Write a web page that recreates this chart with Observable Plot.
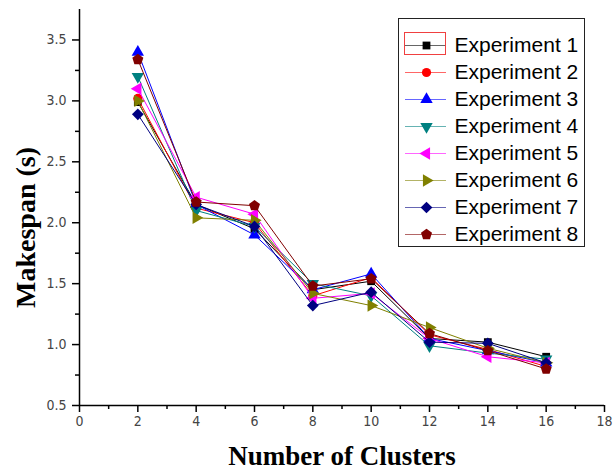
<!DOCTYPE html>
<html>
<head>
<meta charset="utf-8">
<script src="https://cdn.jsdelivr.net/npm/d3@7"></script>
<script src="https://cdn.jsdelivr.net/npm/@observablehq/plot@0.6"></script>
<style>
  body { margin: 0; background: white; }
  #wrap { position: relative; width: 613px; height: 472px; overflow: hidden; }
  #legend { position: absolute; left: 398px; top: 18px; width: 185px; height: 227px; border: 1px solid #222; background: white; }
  #sel { position: absolute; left: 404px; top: 32px; width: 40px; height: 21px; border: 1px solid #f04040; }
</style>
</head>
<body>
<div id="wrap"><div id="chart"></div><div id="legend"></div><div id="sel"></div></div>
<script>
// ---- data ----
const clusters = [2, 4, 6, 8, 10, 12, 14, 16];
const exp1 = [2.99, 2.15, 1.95, 1.45, 1.52, 1.05, 1.02, 0.90];
const exp2 = [3.02, 2.12, 2.00, 1.40, 1.55, 1.08, 0.96, 0.82];
const exp3 = [3.40, 2.15, 1.90, 1.45, 1.58, 1.05, 0.95, 0.85];
const exp4 = [3.20, 2.10, 1.97, 1.50, 1.40, 0.99, 0.93, 0.88];
const exp5 = [3.10, 2.21, 2.07, 1.38, 1.42, 1.05, 0.90, 0.85];
const exp6 = [3.00, 2.04, 2.02, 1.42, 1.32, 1.14, 0.97, 0.85];
const exp7 = [2.89, 2.15, 1.97, 1.32, 1.43, 1.02, 1.01, 0.85];
const exp8 = [3.34, 2.17, 2.14, 1.48, 1.54, 1.09, 0.95, 0.80];
const seriesNames = ["Experiment 1", "Experiment 2", "Experiment 3", "Experiment 4",
                     "Experiment 5", "Experiment 6", "Experiment 7", "Experiment 8"];
const seriesValues = [exp1, exp2, exp3, exp4, exp5, exp6, exp7, exp8];
const xTicks = [0, 2, 4, 6, 8, 10, 12, 14, 16, 18];
const yTicks = [0.5, 1.0, 1.5, 2.0, 2.5, 3.0, 3.5];

// ---- styling ----
const colors = ["#000000", "#ff0000", "#0000ff", "#008080", "#ff00ff", "#808000", "#000080", "#800000"];
const poly = (pts) => ({
  draw(ctx, size) {
    const s = Math.sqrt(size);
    pts.forEach(([a, b], i) => i ? ctx.lineTo(a * s, b * s) : ctx.moveTo(a * s, b * s));
    ctx.closePath();
  }
});
const pent = [];
for (let i = 0; i < 5; i++) {
  const a = -Math.PI / 2 + i * 2 * Math.PI / 5;
  pent.push([0.68 * Math.cos(a), 0.68 * Math.sin(a)]);
}
const symbols = [
  "square",
  "circle",
  poly([[0, -0.875], [0.76, 0.44], [-0.76, 0.44]]),
  poly([[0, 0.875], [0.76, -0.44], [-0.76, -0.44]]),
  poly([[-0.875, 0], [0.44, -0.76], [0.44, 0.76]]),
  poly([[0.875, 0], [-0.44, -0.76], [-0.44, 0.76]]),
  poly([[0, -0.72], [0.72, 0], [0, 0.72], [-0.72, 0]]),
  poly(pent)
];
const radii = [4.4, 4.6, 4.6, 4.6, 4.6, 4.6, 4.6, 4.8];

const tickFont = "'Liberation Sans Narrow', 'DejaVu Sans Condensed', 'Liberation Sans', sans-serif";
const serif = "'Liberation Serif', 'Times New Roman', serif";

const seriesMarks = [];
seriesValues.forEach((vals, i) => {
  const rows = clusters.map((c, j) => ({x: c, y: vals[j]}));
  seriesMarks.push(Plot.line(rows, {x: "x", y: "y", stroke: colors[i], strokeWidth: 1}));
  seriesMarks.push(Plot.dot(rows, {x: "x", y: "y", fill: colors[i], stroke: "none", symbol: symbols[i], r: radii[i]}));
});

const chart = Plot.plot({
  width: 613,
  height: 472,
  marginLeft: 79,
  marginRight: 9,
  marginTop: 9,
  marginBottom: 67,
  style: {fontFamily: tickFont, fontSize: "14px", background: "white", overflow: "visible"},
  x: {domain: [0, 18]},
  y: {domain: [0.5, 3.75]},
  marks: [
    ...seriesMarks,
    Plot.ruleY([0.5], {stroke: "black", strokeWidth: 1.5}),
    Plot.ruleX([0], {stroke: "black", strokeWidth: 1.5}),
    Plot.axisX({ticks: xTicks, tickSize: 7, text: null, label: null, color: "black", strokeWidth: 1.5}),
    Plot.axisX({ticks: d3.range(1, 18, 2), tickSize: 4, text: null, label: null, color: "black", strokeWidth: 1.5}),
    Plot.axisX({ticks: xTicks, tickSize: 0, tickPadding: 11, tickFormat: d => String(d), color: "#444", label: null}),
    Plot.axisY({ticks: yTicks, tickSize: 7, text: null, label: null, color: "black", strokeWidth: 1.5}),
    Plot.axisY({ticks: d3.range(0.75, 3.75, 0.5), tickSize: 4, text: null, label: null, color: "black", strokeWidth: 1.5}),
    Plot.axisY({ticks: yTicks, tickSize: 0, tickPadding: 13, tickFormat: d3.format(".1f"), color: "#444", label: null}),
    Plot.text(["Number of Clusters"], {frameAnchor: "bottom", dy: 59, textAnchor: "middle", lineAnchor: "bottom", fontSize: 27, fontWeight: "bold", fontFamily: serif, fill: "black"}),
    Plot.text(["Makespan (s)"], {frameAnchor: "left", rotate: -90, dx: -45, dy: 20, textAnchor: "middle", lineAnchor: "bottom", fontSize: 28, fontWeight: "bold", fontFamily: serif, fill: "black"})
  ]
});
document.getElementById("chart").appendChild(chart);

// ---- legend ----
const legendMarks = [];
seriesNames.forEach((name, i) => {
  legendMarks.push(Plot.ruleY([name], {y: d => d, x1: 6, x2: 47, stroke: colors[i], strokeWidth: 1.2, strokeOpacity: 0.6}));
  legendMarks.push(Plot.dot([name], {x: 27, y: d => d, fill: colors[i], stroke: "none", symbol: symbols[i], r: radii[i]}));
});
legendMarks.push(Plot.text(seriesNames, {x: 55, y: d => d, text: d => d, textAnchor: "start", lineAnchor: "middle", fontSize: 21, fontFamily: "'Liberation Sans', Arial, sans-serif", fill: "black"}));

const legend = Plot.plot({
  width: 185,
  height: 227,
  margin: 0,
  style: {background: "white", overflow: "visible"},
  x: {domain: [0, 185], range: [0, 185], axis: null},
  y: {type: "point", domain: seriesNames, range: [24, 217], padding: 0, axis: null},
  marks: legendMarks
});
document.getElementById("legend").appendChild(legend);
</script>
</body>
</html>
